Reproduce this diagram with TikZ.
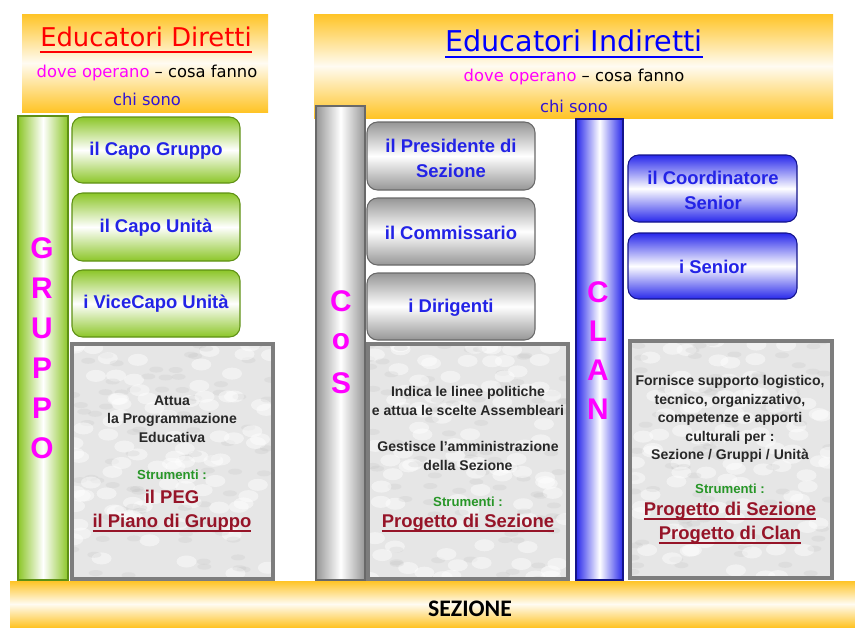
\documentclass[tikz,border=0pt]{standalone}
\usepackage{fontspec}
\setmainfont{Liberation Sans}
\newfontfamily\comicfont{DejaVu Sans}
\newfontfamily\sezfont{Carlito}

\definecolor{hdrorange}{RGB}{255,196,38}
\definecolor{grpgreen}{RGB}{140,198,40}
\definecolor{grpline}{RGB}{95,145,20}
\definecolor{cosgray}{RGB}{150,150,150}
\definecolor{cosline}{RGB}{105,105,105}
\definecolor{clanblue}{RGB}{40,40,235}
\definecolor{clanline}{RGB}{20,20,140}
\definecolor{boxblue}{RGB}{35,35,230}
\definecolor{lettermag}{RGB}{255,0,255}
\definecolor{toolred}{RGB}{150,20,40}
\definecolor{strgreen}{RGB}{40,150,40}
\definecolor{marblefill}{RGB}{230,230,230}
\definecolor{marbleline}{RGB}{125,125,125}
\definecolor{marbleink}{RGB}{40,40,40}
\definecolor{chiblue}{RGB}{50,20,210}

% underline for the tools
\newcommand{\ulx}[1]{\leavevmode\setbox0=\hbox{#1}\rlap{\rule[-2.4pt]{\wd0}{0.8pt}}\box0}

\def\letterstep{40}
\def\barbottom{580}

\begin{document}
\begin{tikzpicture}[x=0.02cm, y=-0.02cm,
    hdrshade/.style={top color=hdrorange, bottom color=hdrorange, middle color=hdrorange!6},
    grpbar/.style={draw=grpline, line width=0.6pt, left color=grpgreen, right color=grpgreen, middle color=white},
    cosbar/.style={draw=cosline, line width=0.6pt, left color=cosgray, right color=cosgray, middle color=white},
    clanbar/.style={draw=clanline, line width=0.6pt, left color=clanblue, right color=clanblue, middle color=white},
    greenbox/.style={grpbar, top color=grpgreen, bottom color=grpgreen, middle color=white, rounded corners=6pt},
    graybox/.style={cosbar, top color=cosgray, bottom color=cosgray, middle color=white, rounded corners=6pt},
    bluebox/.style={clanbar, top color=clanblue, bottom color=clanblue, middle color=white, rounded corners=6pt},
    marblebox/.style={draw=marbleline, line width=1.8pt},
    titletext/.style={font=\comicfont\fontsize{14.7}{17}\selectfont, inner sep=0pt},
    hdrtext/.style={font=\comicfont\fontsize{9.3}{11}\selectfont, inner sep=0pt},
    bigletter/.style={font=\bfseries\fontsize{17}{20}\selectfont, text=lettermag, inner sep=0pt},
    boxtext/.style={font=\bfseries\fontsize{10.5}{14.2}\selectfont, text=boxblue, align=center, inner sep=0pt},
    marbletext/.style={font=\bfseries\fontsize{8}{10.5}\selectfont, text=marbleink, align=center, inner sep=0pt},
    strtext/.style={font=\bfseries\fontsize{7.5}{9}\selectfont, text=strgreen, inner sep=0pt},
    tooltext/.style={font=\bfseries\fontsize{10.5}{14}\selectfont, text=toolred, inner sep=0pt}]

\useasboundingbox[fill=white] (0,0) rectangle (855,630);

% Headers
\shade[hdrshade] (22,14) rectangle (268,112); % left header
\shade[hdrshade] (314,14) rectangle (833,118); % right header

\node[titletext, text=red] (dirtitle) at (146,37) {Educatori Diretti};
\draw[red, line width=1.4pt] ([yshift=-3pt]dirtitle.base west) -- ([yshift=-3pt]dirtitle.base east);
\node[hdrtext] (dirwhat) at (147,73) {\textcolor{lettermag}{dove operano} – cosa fanno};
\node[hdrtext, text=chiblue] (dirwho) at (147,99) {chi sono};

\node[titletext, text=blue, font=\comicfont\fontsize{16.3}{19}\selectfont] (indtitle) at (574,41) {Educatori Indiretti};
\draw[blue, line width=1.4pt] ([yshift=-3pt]indtitle.base west) -- ([yshift=-3pt]indtitle.base east);
\node[hdrtext] (indwhat) at (574,77) {\textcolor{lettermag}{dove operano} – cosa fanno};
\node[hdrtext, text=chiblue] (indwho) at (574,106) {chi sono};

% Vertical bars
\draw[grpbar] (18,116) rectangle (68,\barbottom); % GRUPPO
\draw[cosbar] (316,106) rectangle (365,\barbottom); % CoS
\draw[clanbar] (576,119) rectangle (623,\barbottom); % CLAN

\foreach \l [count=\i] in {G,R,U,P,P,O} {
    \node[bigletter] (gruppo\i) at (42,{248+\letterstep*(\i-1)}) {\l};
}
\foreach \l [count=\i] in {C,o,S} {
    \node[bigletter] (cos\i) at (341,{301+41*(\i-1)}) {\l};
}
\foreach \l [count=\i] in {C,L,A,N} {
    \node[bigletter] (clan\i) at (598,{292+39*(\i-1)}) {\l};
}

% Who they are
\draw[greenbox] (72,117) rectangle (240,183);
\draw[greenbox] (72,193) rectangle (240,261);
\draw[greenbox] (72,270) rectangle (240,337);
\node[boxtext] (capogruppo) at (156,151) {il Capo Gruppo};
\node[boxtext] (capounita) at (156,228) {il Capo Unità};
\node[boxtext] (vicecapo) at (156,304) {i ViceCapo Unità};

\draw[graybox] (367,122) rectangle (535,190);
\draw[graybox] (367,198) rectangle (535,265);
\draw[graybox] (367,273) rectangle (535,340);
\node[boxtext] (presidente) at (451,158) {il Presidente di\\Sezione};
\node[boxtext] (commissario) at (451,233) {il Commissario};
\node[boxtext] (dirigenti) at (451,308) {i Dirigenti};

\draw[bluebox] (628,155) rectangle (797,222);
\draw[bluebox] (628,233) rectangle (797,299);
\node[boxtext] (coordinatore) at (713,190) {il Coordinatore\\Senior};
\node[boxtext] (senior) at (713,267) {i Senior};

% What they do (marble panels)
\pgfmathsetseed{11}
\foreach \xa/\ya/\xb/\yb in {72/344/273/579, 368/344/568/579, 630/341/832/578} {
    \fill[marblefill] (\xa,\ya) rectangle (\xb,\yb);
    \begin{scope}
        \clip (\xa,\ya) rectangle (\xb,\yb);
        \foreach \k in {1,...,90} {
            \pgfmathsetmacro\rx{\xa+rnd*(\xb-\xa)}
            \pgfmathsetmacro\ry{\ya+rnd*(\yb-\ya)}
            \fill[gray!55, opacity=0.18] (\rx,\ry) ellipse [x radius=7, y radius=3]; % vein
            \pgfmathsetmacro\wx{\xa+rnd*(\xb-\xa)}
            \pgfmathsetmacro\wy{\ya+rnd*(\yb-\ya)}
            \fill[white, opacity=0.45] (\wx,\wy) ellipse [x radius=10, y radius=6]; % cloud
        }
    \end{scope}
    \draw[marblebox] (\xa,\ya) rectangle (\xb,\yb);
}

\node[marbletext] (attua) at (172,419) {Attua\\la Programmazione\\Educativa};
\node[strtext] (strgruppo) at (172,475) {Strumenti :};
\node[tooltext] (peg) at (172,497) {il PEG};
\node[tooltext] (piano) at (172,523) {\ulx{il Piano di Gruppo}};

\node[marbletext] (indica) at (468,401) {Indica le linee politiche\\e attua le scelte Assembleari};
\node[marbletext] (gestisce) at (468,456) {Gestisce l'amministrazione\\della Sezione};
\node[strtext] (strcos) at (468,502) {Strumenti :};
\node[tooltext] (progcos) at (468,523) {\ulx{Progetto di Sezione}};

\node[marbletext] (fornisce) at (730,419) {Fornisce supporto logistico,\\tecnico, organizzativo,\\competenze e apporti\\culturali per :\\Sezione / Gruppi / Unità};
\node[strtext] (strclan) at (730,489) {Strumenti :};
\node[tooltext] (progsez) at (730,511) {\ulx{Progetto di Sezione}};
\node[tooltext] (progclan) at (730,535) {\ulx{Progetto di Clan}};

% Base
\shade[hdrshade] (10,581) rectangle (855,627);
\node[font=\sezfont\bfseries\fontsize{13.5}{16}\selectfont, inner sep=0pt] (sezione) at (470,609) {SEZIONE};

\end{tikzpicture}
\end{document}
